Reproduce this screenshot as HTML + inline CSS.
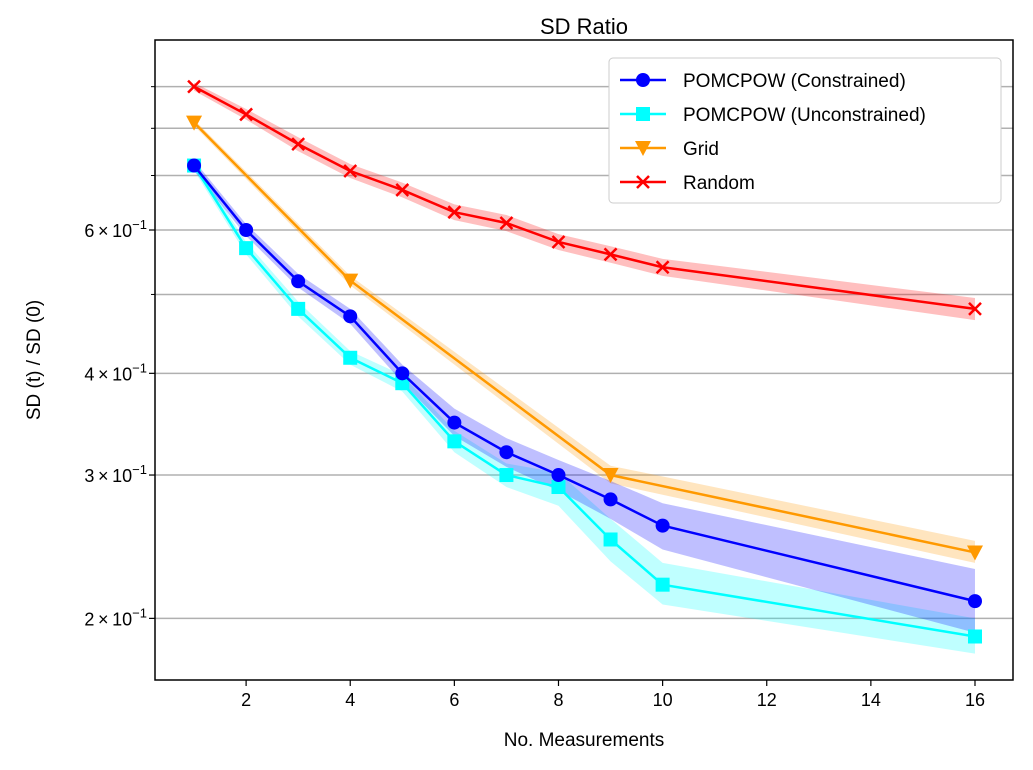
<!DOCTYPE html>
<html><head><meta charset="utf-8"><style>
body{margin:0;background:#fff;}
svg text{font-family:"Liberation Sans","DejaVu Sans",sans-serif;fill:#000;}
</style></head><body>
<svg id="chart" width="1033" height="765" xmlns="http://www.w3.org/2000/svg">
<text x="584" y="34" font-size="22" text-anchor="middle">SD Ratio</text>
<text x="584" y="746" font-size="19" text-anchor="middle">No. Measurements</text>
<text transform="translate(40,360) rotate(-90)" font-size="19" text-anchor="middle">SD (t) / SD (0)</text>
<g id="grid"></g><g id="bands"></g><g id="lines"></g><g id="axes"></g>
<g>
<rect x="609" y="58" width="392" height="145" fill="#fff" stroke="#ccc" rx="4"/>
<g id="legend-items"></g>
</g>
</svg>
<script>
const xs=[1,2,3,4,5,6,7,8,9,10,16];
const constrained=[0.72,0.6,0.519,0.47,0.4,0.348,0.32,0.3,0.28,0.26,0.21];
const constrainedLo=[0.71,0.59,0.51,0.46,0.39,0.335,0.307,0.287,0.265,0.243,0.192];
const constrainedHi=[0.73,0.61,0.53,0.48,0.41,0.362,0.333,0.313,0.295,0.277,0.23];
const unconstrained=[0.72,0.57,0.48,0.418,0.389,0.33,0.3,0.29,0.25,0.22,0.19];
const unconstrainedLo=[0.71,0.56,0.47,0.41,0.38,0.32,0.29,0.275,0.235,0.208,0.181];
const unconstrainedHi=[0.73,0.58,0.49,0.426,0.398,0.34,0.31,0.302,0.265,0.234,0.2];
const gridX=[1,4,9,16];
const gridVals=[0.813,0.52,0.3,0.241];
const gridLo=[0.806,0.513,0.293,0.234];
const gridHi=[0.82,0.527,0.308,0.249];
const randomVals=[0.9,0.832,0.765,0.709,0.672,0.631,0.612,0.58,0.56,0.54,0.48];
const randomLo=[0.89,0.82,0.75,0.695,0.658,0.617,0.598,0.567,0.547,0.527,0.465];
const randomHi=[0.91,0.845,0.78,0.723,0.686,0.645,0.626,0.593,0.573,0.553,0.495];
const xTicks=[2,4,6,8,10,12,14,16];
const yMajor=[0.2,0.3,0.4,0.6];
const yMajorLabels=["2","3","4","6"];
const yMinor=[0.5,0.7,0.8,0.9];

const L=155,R=1013,T=40,B=680,xMin=0.25,xMax=16.73,yMin=0.168,yMax=1.027;
const X=v=>L+(v-xMin)/(xMax-xMin)*(R-L);
const Y=v=>B-(Math.log10(v)-Math.log10(yMin))/(Math.log10(yMax)-Math.log10(yMin))*(B-T);
const NS="http://www.w3.org/2000/svg";
function mk(tag,attrs,parent){const e=document.createElementNS(NS,tag);for(const k in attrs)e.setAttribute(k,attrs[k]);parent.appendChild(e);return e;}
const gGrid=document.getElementById('grid'),gBands=document.getElementById('bands'),gLines=document.getElementById('lines'),gAxes=document.getElementById('axes');
yMajor.concat(yMinor).forEach(v=>{const l=mk('line',{x1:L,x2:R,y1:Y(v),y2:Y(v),stroke:'#b0b0b0','stroke-width':1.5},gGrid);

});
function series(name,xv,vals,lo,hi,color,marker){
 const pts=xv.map((x,i)=>X(x)+','+Y(lo[i])).concat(xv.map((x,i)=>X(x)+','+Y(hi[i])).reverse());
 const band=mk('polygon',{points:pts.join(' '),fill:color,'fill-opacity':0.25},gBands);
 
 
 const line=mk('polyline',{points:xv.map((x,i)=>X(x)+','+Y(vals[i])).join(' '),fill:'none',stroke:color,'stroke-width':2.5},gLines);
 
 
 xv.forEach((x,i)=>{const m=drawMarker(marker,X(x),Y(vals[i]),color,gLines);
 
 });
}
function drawMarker(type,cx,cy,color,parent){
 if(type==='o')return mk('circle',{cx:cx,cy:cy,r:7,fill:color},parent);
 if(type==='s')return mk('rect',{x:cx-7,y:cy-7,width:14,height:14,fill:color},parent);
 if(type==='v')return mk('polygon',{points:`${cx-8},${cy-7} ${cx+8},${cy-7} ${cx},${cy+8}`,fill:color},parent);
 return mk('path',{d:`M${cx-6},${cy-6}L${cx+6},${cy+6}M${cx-6},${cy+6}L${cx+6},${cy-6}`,stroke:color,'stroke-width':2.5},parent);
}
series('random',xs,randomVals,randomLo,randomHi,'#ff0000','x');
series('grid',gridX,gridVals,gridLo,gridHi,'#ff9900','v');
series('unconstrained',xs,unconstrained,unconstrainedLo,unconstrainedHi,'#00ffff','s');
series('constrained',xs,constrained,constrainedLo,constrainedHi,'#0000ff','o');
const frame=mk('rect',{x:L,y:T,width:R-L,height:B-T,fill:'none',stroke:'#000','stroke-width':1.5},gAxes);


xTicks.forEach(v=>{mk('line',{x1:X(v),x2:X(v),y1:B,y2:B+6,stroke:'#000','stroke-width':1.2},gAxes);
 const t=mk('text',{x:X(v),y:B+26,'font-size':18,'text-anchor':'middle'},gAxes);t.textContent=v;
 
 });
yMajor.forEach((v,i)=>{mk('line',{x1:L-6,x2:L,y1:Y(v),y2:Y(v),stroke:'#000','stroke-width':1.2},gAxes);
 const t=mk('text',{x:L-8,y:Y(v)+7,'font-size':18,'text-anchor':'end'},gAxes);
 t.innerHTML=yMajorLabels[i]+'\u2009\u00d7\u200910<tspan dy="-8" font-size="13">\u22121</tspan>';
 
 });
yMinor.forEach(v=>mk('line',{x1:L-4,x2:L,y1:Y(v),y2:Y(v),stroke:'#000','stroke-width':1},gAxes));
const leg=[['POMCPOW (Constrained)','#0000ff','o'],['POMCPOW (Unconstrained)','#00ffff','s'],['Grid','#ff9900','v'],['Random','#ff0000','x']];
const gl=document.getElementById('legend-items');
leg.forEach((l,i)=>{const y=80+i*34;
 mk('line',{x1:620,x2:666,y1:y,y2:y,stroke:l[1],'stroke-width':2.5},gl);
 drawMarker(l[2],643,y,l[1],gl);
 const t=mk('text',{x:683,y:y+7,'font-size':19},gl);t.textContent=l[0];
 
 });
</script>
</body></html>
